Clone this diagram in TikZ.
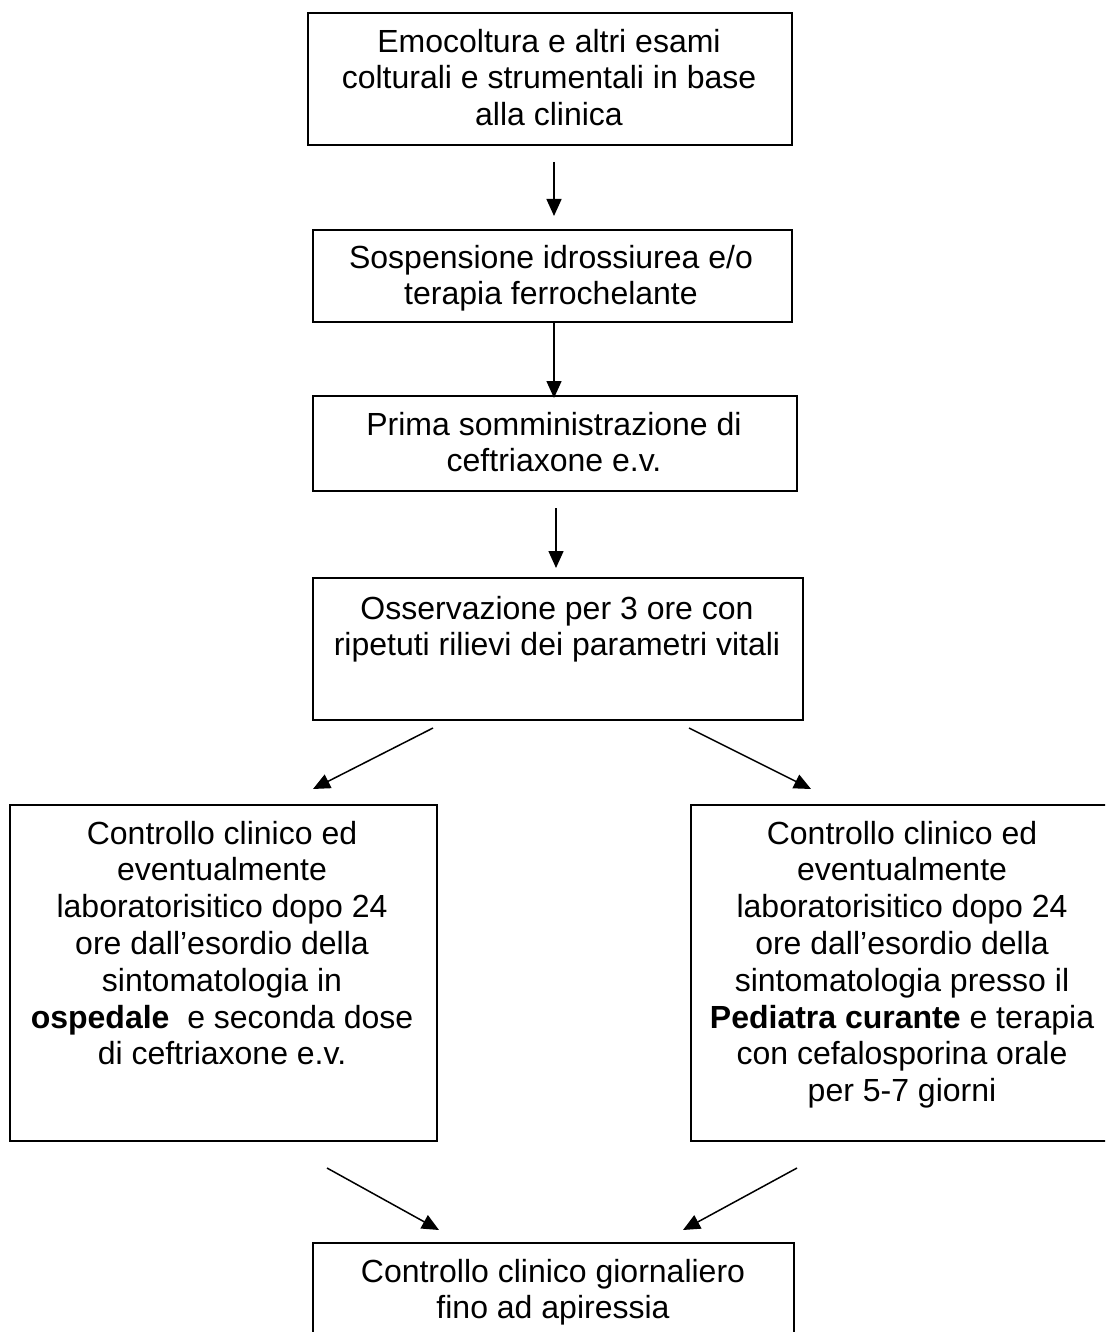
\documentclass[tikz,border=0pt]{standalone}
\usepackage{fontspec}
\setmainfont{Liberation Sans}
\usetikzlibrary{arrows.meta}
\begin{document}
\begin{tikzpicture}[x=1pt,y=-1pt,
  box/.style={draw=black,line width=1.6pt,inner sep=0pt,anchor=north west},
  txt/.style={align=center,inner sep=0pt,anchor=north,font=\fontsize{32}{36.8}\selectfont},
  arr/.style={line width=1.5pt,-{Triangle[length=17pt,width=15pt]}}]
\path[use as bounding box,clip] (0,0) rectangle (1105,1332);
\fill[white] (0,0) rectangle (1105,1332);
% boxes
\node[box,minimum width=484pt,minimum height=132pt] (b1) at (307,12) {};
\node[box,minimum width=479pt,minimum height=92pt] (b2) at (312,229) {};
\node[box,minimum width=484pt,minimum height=95pt] (b3) at (312,395) {};
\node[box,minimum width=490pt,minimum height=142pt] (b4) at (312,577) {};
\node[box,minimum width=427pt,minimum height=336pt] (b5) at (9,804) {};
\node[box,minimum width=420pt,minimum height=336pt] (b6) at (690,804) {};
\node[box,minimum width=481pt,minimum height=140pt] (b7) at (312,1242) {};
% texts
\node[txt] (t1) at (549,26.2) {\strut Emocoltura e altri esami\\colturali e strumentali in base\\alla clinica};
\node[txt] (t2) at (551,242.2) {\strut Sospensione idrossiurea e/o\\terapia ferrochelante};
\node[txt] (t3) at (554,409.2) {\strut Prima somministrazione di\\ceftriaxone e.v.};
\node[txt] (t4) at (557,593.2) {\strut Osservazione per 3 ore con\\ripetuti rilievi dei parametri vitali};
\node[txt] (t5) at (222,818.2) {\strut Controllo clinico ed\\eventualmente\\laboratorisitico dopo 24\\ore dall’esordio della\\sintomatologia in\\\textbf{ospedale}~ e seconda dose\\di ceftriaxone e.v.};
\node[txt] (t6) at (902,818.2) {\strut Controllo clinico ed\\eventualmente\\laboratorisitico dopo 24\\ore dall’esordio della\\sintomatologia presso il\\\textbf{Pediatra curante} e terapia\\con cefalosporina orale\\per 5-7 giorni};
\node[txt] (t7) at (553,1256.2) {\strut Controllo clinico giornaliero\\fino ad apiressia};
% connector end points
\coordinate (a1s) at (554,162);
\coordinate (a1e) at (554,216);
\coordinate (a2s) at (554,323);
\coordinate (a2e) at (554,398);
\coordinate (a3s) at (556,508);
\coordinate (a3e) at (556,568);
\coordinate (a4s) at (433,728);
\coordinate (a4e) at (313,789);
\coordinate (a5s) at (689,728);
\coordinate (a5e) at (811,789);
\coordinate (a6s) at (327,1168);
\coordinate (a6e) at (439,1230);
\coordinate (a7s) at (797,1168);
\coordinate (a7e) at (683,1230);
\draw[arr] (a1s) -- (a1e);
\draw[arr] (a2s) -- (a2e);
\draw[arr] (a3s) -- (a3e);
\draw[arr] (a4s) -- (a4e);
\draw[arr] (a5s) -- (a5e);
\draw[arr] (a6s) -- (a6e);
\draw[arr] (a7s) -- (a7e);
\end{tikzpicture}
\end{document}
